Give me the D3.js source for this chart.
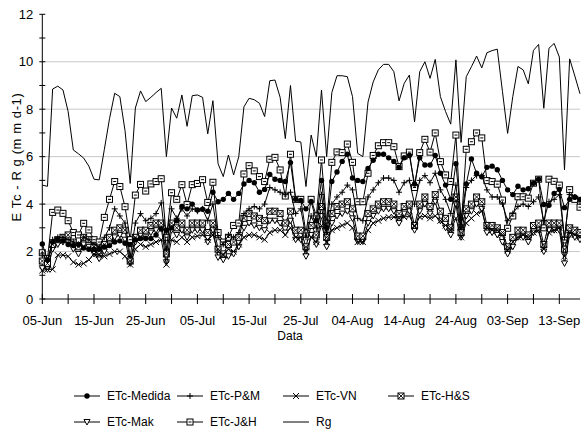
<!DOCTYPE html>
<html>
<head>
<meta charset="utf-8">
<script src="https://cdn.jsdelivr.net/npm/d3@7"></script>
<style>
  html, body { margin: 0; padding: 0; background: #fff; }
  svg { display: block; font-family: "Liberation Sans", Arial, sans-serif; }
</style>
</head>
<body>
<svg id="chart" width="581" height="439"></svg>
<script>
// Daily series, 05-Jun to 17-Sep (105 days)
const startDate = "2000-06-05";
const seriesNames = ["ETc-Medida", "ETc-P&M", "ETc-VN", "ETc-H&S", "ETc-Mak", "ETc-J&H", "Rg"];
const yTicks = [0, 2, 4, 6, 8, 10, 12];

const etcMedida = [2.32,1.65,2.4,2.5,2.45,2.3,2.25,2.3,2.15,2.1,2.1,2.1,2.2,2.25,2.4,2.45,2.35,2.3,2.5,2.55,2.55,2.55,2.7,2.95,2.9,3.0,3.3,3.9,3.8,4.0,3.75,3.78,3.7,4.5,4.1,4.2,4.45,4.2,4.45,4.85,5.0,4.9,4.5,4.62,5.25,5.05,5.0,4.95,5.75,4.2,4.15,3.8,4.1,3.3,5.0,3.0,4.95,5.35,5.8,6.1,5.1,5.0,4.95,5.5,5.85,6.1,6.1,5.95,5.8,5.55,5.95,6.05,4.85,5.95,5.65,5.65,6.05,5.3,4.8,4.2,5.7,3.4,4.85,5.9,5.3,5.15,5.55,5.6,5.45,5.0,4.6,4.4,4.75,4.6,4.65,4.88,5.05,3.98,3.95,4.45,4.62,3.85,4.2,4.3,4.2];
const etcPM = [1.9,1.6,2.5,2.6,2.6,2.5,2.4,2.3,2.6,2.5,2.3,2.2,2.6,3.0,3.8,3.5,3.2,1.8,3.2,3.6,3.3,3.4,3.6,4.05,2.1,3.8,3.4,3.8,3.5,3.8,3.7,3.8,3.3,4.0,2.6,2.3,2.7,2.6,2.8,3.6,3.8,3.9,3.8,4.0,4.7,4.6,4.5,4.4,4.5,3.6,3.8,2.6,3.5,3.0,4.4,2.8,4.0,4.3,4.5,4.8,4.6,3.4,3.3,4.3,4.6,4.9,5.1,5.1,5.0,4.5,4.9,5.0,4.0,5.0,5.2,4.9,5.3,4.6,4.2,3.6,4.8,3.0,4.7,5.0,5.2,5.2,4.6,4.3,4.3,4.0,3.3,3.6,3.9,4.0,3.9,4.1,4.3,3.3,4.1,4.2,4.4,2.6,4.4,4.3,4.1];
const etcVN = [1.2,1.25,1.25,1.85,1.85,1.8,1.55,1.45,1.5,1.65,1.9,1.85,1.8,1.9,2.0,2.0,1.8,1.45,2.1,2.3,2.2,2.3,2.4,2.5,1.45,2.5,2.4,2.6,2.4,2.6,2.65,2.7,2.5,2.7,2.0,1.85,2.1,2.0,2.3,2.6,2.7,2.7,2.6,2.5,2.8,2.9,2.9,2.7,3.0,2.6,2.6,2.0,2.6,2.4,3.1,2.4,2.9,3.0,3.1,3.2,3.0,2.4,2.4,2.9,3.2,3.3,3.4,3.45,3.45,3.4,3.45,3.5,3.05,3.45,3.5,3.4,3.5,3.3,3.1,2.9,3.4,2.6,3.2,3.4,3.6,3.7,3.0,2.9,2.9,2.7,2.05,2.4,2.6,2.7,2.6,2.8,2.9,2.1,2.8,2.9,3.0,1.8,2.8,2.7,2.6];
const etcHS = [1.6,1.5,2.3,2.5,2.6,2.7,2.4,2.2,2.6,2.5,2.2,1.9,2.3,2.6,2.9,3.0,2.9,1.6,2.6,2.9,2.9,3.1,3.2,3.2,1.9,3.2,3.0,3.2,2.9,3.2,3.2,3.2,2.8,3.2,2.1,1.9,2.3,2.4,2.6,3.4,3.6,3.5,3.4,3.3,3.7,3.7,3.6,3.2,3.7,2.9,2.9,2.2,3.1,2.7,3.9,2.6,3.6,3.9,4.0,4.1,3.8,2.65,2.65,3.6,3.8,4.0,4.1,4.1,4.0,3.6,3.9,4.0,3.1,4.0,4.3,3.9,4.4,3.7,3.4,3.0,4.3,2.8,3.8,4.0,4.3,4.1,3.1,3.1,3.0,2.8,2.2,2.6,2.9,2.9,2.7,3.1,3.2,2.3,3.2,3.2,3.2,2.1,3.0,2.9,2.8];
const etcMak = [1.3,1.25,2.1,2.3,2.4,2.4,2.1,1.9,2.3,2.2,1.9,1.7,2.0,2.3,2.6,2.7,2.5,1.5,2.4,2.7,2.6,2.8,2.9,3.0,1.55,2.9,2.7,2.9,2.6,2.9,2.9,2.9,2.4,2.9,1.75,1.65,1.8,1.9,2.2,3.0,3.2,3.1,3.0,2.9,3.3,3.3,3.2,2.8,3.3,2.5,2.5,1.8,2.7,2.3,3.5,2.2,3.2,3.5,3.6,3.7,3.4,2.42,2.42,3.2,3.5,3.7,3.8,3.8,3.7,3.2,3.6,3.7,2.9,3.7,4.0,3.6,4.1,3.3,3.0,2.7,4.0,2.6,3.5,3.7,4.0,3.8,2.8,2.8,2.7,2.4,1.9,2.2,2.6,2.6,2.4,2.8,2.9,2.0,2.9,2.9,2.9,1.5,2.7,2.6,2.5];
const etcJH = [1.95,1.7,3.65,3.75,3.61,3.3,2.8,2.7,3.19,2.91,2.5,2.4,3.44,4.2,4.95,4.74,3.89,2.5,4.38,4.83,4.55,4.85,4.95,5.07,2.6,4.48,4.2,4.82,3.98,4.82,4.87,5.03,4.07,4.92,2.8,2.4,2.6,3.1,3.2,5.27,5.62,5.4,5.16,4.95,5.89,5.97,5.44,4.34,6.1,4.2,4.2,2.78,4.2,3.5,5.86,3.2,5.76,6.2,6.17,6.53,5.76,4.1,4.1,5.3,6.05,6.46,6.59,6.59,6.42,5.58,6.03,6.19,4.7,6.17,6.73,6.19,7.0,5.79,5.23,4.95,6.91,3.0,6.31,6.63,7.0,6.79,4.99,4.95,4.84,4.17,2.98,3.5,4.31,4.31,4.25,4.88,5.05,3.0,5.05,4.96,4.8,2.49,4.61,4.2,3.87];
const rg = [4.8,4.75,8.85,8.97,8.81,7.9,6.28,6.12,5.94,5.6,5.05,5.02,6.3,7.6,8.67,8.53,7.1,4.87,8.05,8.77,8.32,8.5,8.7,8.88,6.0,8.05,7.62,8.6,7.28,8.57,8.6,8.5,6.96,8.36,5.7,5.16,6.07,5.23,6.0,8.1,8.46,8.4,8.25,7.69,9.2,9.23,8.5,6.76,9.0,6.65,6.62,4.74,6.91,6.0,8.81,6.0,8.7,9.41,9.41,9.37,8.53,6.14,6.0,8.3,9.15,9.66,9.89,9.89,9.58,8.35,9.09,9.44,7.47,9.58,10.0,9.3,10.1,8.53,7.9,7.37,10.08,6.6,9.37,9.79,10.24,9.74,10.38,10.47,10.53,8.75,6.98,8.53,9.8,9.66,9.07,10.48,10.73,8.04,10.57,10.77,10.2,5.44,10.12,9.4,8.65];

const seriesValues = [etcMedida, etcPM, etcVN, etcHS, etcMak, etcJH, rg];
const markerKinds = ["dot", "plus", "cross", "boxcross", "triangle", "square", "none"];

const parse = d3.utcParse("%Y-%m-%d");
const t0 = parse(startDate);
const dates = d3.range(rg.length).map(i => d3.utcDay.offset(t0, i));

const svg = d3.select("#chart");
const m = { left: 42.3, right: 580, top: 14.3, bottom: 299 };

const x = d3.scaleUtc().domain([dates[0], dates[dates.length - 1]]).range([m.left, m.right]);
const y = d3.scaleLinear().domain([0, 12]).range([m.bottom, m.top]);

// horizontal gridlines
svg.append("g").selectAll("line").data(yTicks.filter(v => v > 0 && v < 12)).join("line")
  .attr("x1", m.left).attr("x2", m.right)
  .attr("y1", d => y(d)).attr("y2", d => y(d))
  .attr("stroke", "#c8c8c8").attr("stroke-width", 1);

// y axis
const yAxis = svg.append("g").attr("transform", `translate(${m.left},0)`);
yAxis.append("line").attr("y1", m.top).attr("y2", m.bottom).attr("stroke", "#000");
yAxis.selectAll("line.tk").data(d3.range(0, 13)).join("line").attr("class", "tk")
  .attr("x1", -3).attr("x2", 3).attr("y1", d => y(d)).attr("y2", d => y(d)).attr("stroke", "#000");
yAxis.selectAll("text").data(yTicks).join("text")
  .attr("x", -9).attr("y", d => y(d)).attr("dy", "0.36em")
  .attr("text-anchor", "end").attr("font-size", 13).text(d => d);

// x axis
const xAxis = svg.append("g").attr("transform", `translate(0,${m.bottom})`);
xAxis.append("line").attr("x1", m.left).attr("x2", m.right).attr("stroke", "#000");
const minorTicks = d3.range(0, dates.length, 5).map(i => dates[i]);
xAxis.selectAll("line.tk").data(minorTicks).join("line").attr("class", "tk")
  .attr("x1", d => x(d)).attr("x2", d => x(d)).attr("y1", -5).attr("y2", 5).attr("stroke", "#000");
const majorTicks = d3.range(0, dates.length, 10).map(i => dates[i]);
const fmt = d3.utcFormat("%d-%b");
xAxis.selectAll("text").data(majorTicks).join("text")
  .attr("x", d => x(d)).attr("y", 21).attr("dy", "0.36em")
  .attr("text-anchor", "middle").attr("font-size", 13).text(d => fmt(d));

// axis titles
svg.append("text").attr("x", 290).attr("y", 336).attr("dy", "0.36em").attr("text-anchor", "middle")
  .attr("font-size", 12).text("Data");
svg.append("text").attr("transform", "translate(16,157) rotate(-90)")
  .attr("text-anchor", "middle").attr("dy", "0.36em").attr("font-size", 13)
  .attr("letter-spacing", 0.6).text("E Tc - R g (m m d-1)");

// markers
function drawMarker(g, kind, cx, cy) {
  const s = 3;
  if (kind === "dot") {
    g.append("circle").attr("cx", cx).attr("cy", cy).attr("r", 2.7).attr("fill", "#000");
  } else if (kind === "plus") {
    g.append("path").attr("d", `M${cx - s},${cy}H${cx + s}M${cx},${cy - s}V${cy + s}`)
      .attr("stroke", "#000").attr("fill", "none");
  } else if (kind === "cross") {
    g.append("path").attr("d", `M${cx - s},${cy - s}L${cx + s},${cy + s}M${cx - s},${cy + s}L${cx + s},${cy - s}`)
      .attr("stroke", "#000").attr("fill", "none");
  } else if (kind === "boxcross") {
    g.append("rect").attr("x", cx - s).attr("y", cy - s).attr("width", 2 * s).attr("height", 2 * s)
      .attr("fill", "#fff").attr("stroke", "#000");
    g.append("path").attr("d", `M${cx - s},${cy - s}L${cx + s},${cy + s}M${cx - s},${cy + s}L${cx + s},${cy - s}`)
      .attr("stroke", "#000").attr("fill", "none").attr("stroke-width", 0.9);
  } else if (kind === "triangle") {
    g.append("path").attr("d", `M${cx - s},${cy - s + 0.5}H${cx + s}L${cx},${cy + s}Z`)
      .attr("fill", "#fff").attr("stroke", "#000");
  } else if (kind === "square") {
    g.append("rect").attr("x", cx - s).attr("y", cy - s).attr("width", 2 * s).attr("height", 2 * s)
      .attr("fill", "#fff").attr("stroke", "#000");
    g.append("line").attr("x1", cx - 1.5).attr("x2", cx + 1.5).attr("y1", cy).attr("y2", cy).attr("stroke", "#000");
  }
}

const line = d3.line().x((d, i) => x(dates[i])).y(d => y(d));
const plot = svg.append("g");
// draw from last to first so measured data sits on top
[6, 5, 4, 3, 2, 1, 0].forEach(k => {
  const vals = seriesValues[k];
  const g = plot.append("g");
  g.append("path").datum(vals).attr("d", line).attr("fill", "none")
    .attr("stroke", "#000").attr("stroke-width", 1);
  if (markerKinds[k] !== "none") {
    vals.forEach((v, i) => drawMarker(g, markerKinds[k], x(dates[i]), y(v)));
  }
});

// legend
const legendPos = [[74, 396], [177, 396], [283, 396], [388, 396], [74, 422], [177, 422], [283, 422]];
const legend = svg.append("g");
seriesNames.forEach((name, k) => {
  const [lx, ly] = legendPos[k];
  const g = legend.append("g");
  g.append("line").attr("x1", lx).attr("x2", lx + 26).attr("y1", ly).attr("y2", ly).attr("stroke", "#000");
  if (markerKinds[k] !== "none") drawMarker(g, markerKinds[k], lx + 13, ly);
  g.append("text").attr("x", lx + 33).attr("y", ly).attr("dy", "0.36em")
    .attr("font-size", 12).text(name);
});
</script>
</body>
</html>
